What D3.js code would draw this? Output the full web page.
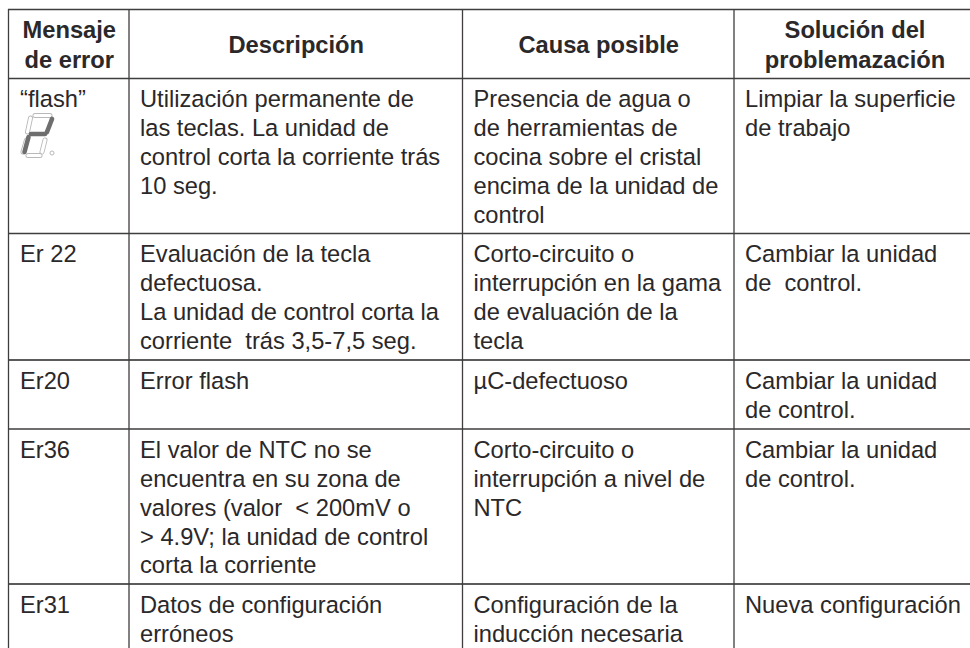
<!DOCTYPE html>
<html><head><meta charset="utf-8"><script src="https://cdn.jsdelivr.net/npm/d3@7"></script>
<style>html,body{margin:0;background:#fff}svg{display:block}text{font-family:"Liberation Sans",Arial,sans-serif;fill:#2b282a}</style></head>
<body><svg id="c" width="970" height="648"></svg>
<script>
const headers = [["Mensaje","de error"],["Descripción"],["Causa posible"],["Solución del","problemazación"]];
const rows = [
 [["“flash”"],["Utilización permanente de","las teclas. La unidad de","control corta la corriente trás","10 seg."],["Presencia de agua o","de herramientas de","cocina sobre el cristal","encima de la unidad de","control"],["Limpiar la superficie","de trabajo"]],
 [["Er 22"],["Evaluación de la tecla","defectuosa.","La unidad de control corta la","corriente  trás 3,5-7,5 seg."],["Corto-circuito o","interrupción en la gama","de evaluación de la","tecla"],["Cambiar la unidad","de  control."]],
 [["Er20"],["Error flash"],["µC-defectuoso"],["Cambiar la unidad","de control."]],
 [["Er36"],["El valor de NTC no se","encuentra en su zona de","valores (valor  < 200mV o","> 4.9V; la unidad de control","corta la corriente"],["Corto-circuito o","interrupción a nivel de","NTC"],["Cambiar la unidad","de control."]],
 [["Er31"],["Datos de configuración","erróneos"],["Configuración de la","inducción necesaria"],["Nueva configuración"]]
];
const colEdges = [8.5,129,462.5,734,970];
const rowEdges = [9.5,78.5,233.5,360,429,584,648];
const heavyRows = [360,584];
const svg = d3.select("#c");
const ink = "#3f3d3e";
svg.selectAll("line.h").data(rowEdges.slice(0,6)).join("line").attr("x1",8).attr("x2",970).attr("y1",d=>d).attr("y2",d=>d)
  .attr("stroke",d=>heavyRows.includes(d)?"#5c5a5b":ink).attr("stroke-width",d=>heavyRows.includes(d)?2:1.4);
svg.selectAll("line.v").data(colEdges.slice(0,4)).join("line").attr("x1",d=>d).attr("x2",d=>d).attr("y1",9).attr("y2",648).attr("stroke",ink).attr("stroke-width",1.3);
const FS = 23.7, LH = 28.9;
headers.forEach((h,c)=>{
  const mid=(colEdges[c]+colEdges[c+1])/2 + (c==3?3:0.5);
  const base = h.length==2 ? 38 : 53;
  h.forEach((t,i)=>svg.append("text").attr("x",mid).attr("y",base+i*30).attr("text-anchor","middle").attr("font-size",FS).attr("font-weight",700).text(t));
});
rows.forEach((r,ri)=>{
  r.forEach((cell,c)=>{
    cell.forEach((t,i)=>svg.append("text").attr("x",colEdges[c]+(c==0?11.5:11)).attr("y",rowEdges[ri+1]+28.8+i*LH).attr("font-size",FS).style("white-space","pre").text(t));
  });
});
// seven-segment glyph of the flash row
const offSegments = [[35,115.5,50,115.5],[30.5,118,27.5,132],[26.5,140,23,152],[28,155.5,40,155.5],[45,140,42,152]];
const onSegments = [[52,119,47,132],[45,134,31,134],[28.5,137,24.5,152]];
const dot = [52,153];
const g = svg.append("g");
[["#b9b9b9",5,"round"],["#ffffff",3.2,"round"]].forEach(([col,w,cap])=>{
  offSegments.forEach(s=>g.append("line").attr("x1",s[0]).attr("y1",s[1]).attr("x2",s[2]).attr("y2",s[3]).attr("stroke",col).attr("stroke-width",w).attr("stroke-linecap",cap));
});
onSegments.forEach(s=>g.append("line").attr("x1",s[0]).attr("y1",s[1]).attr("x2",s[2]).attr("y2",s[3]).attr("stroke","#6f6e6f").attr("stroke-width",4.6).attr("stroke-linecap","round"));
g.append("circle").attr("cx",dot[0]).attr("cy",dot[1]).attr("r",2).attr("fill","none").attr("stroke","#b9b9b9");
</script></body></html>
